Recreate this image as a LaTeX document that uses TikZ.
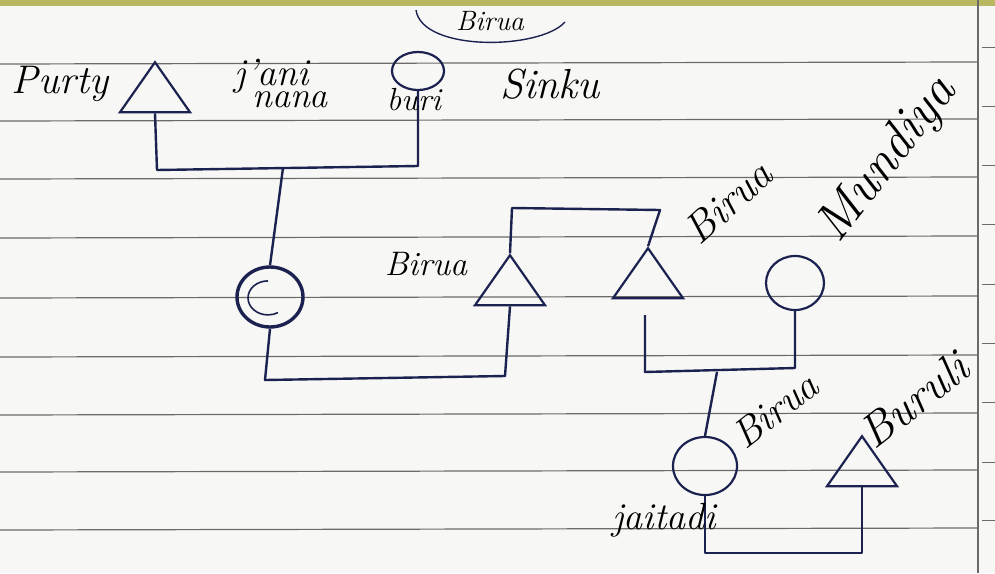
\documentclass[tikz,border=0pt]{standalone}
\usetikzlibrary{shapes.geometric}
\definecolor{ink}{HTML}{1C2250}
\definecolor{rule}{HTML}{6A6A6A}
\definecolor{paper}{HTML}{F7F7F5}
\definecolor{band}{HTML}{B8B860}
\newcommand{\hsz}[1]{\itshape\fontsize{#1}{#1}\selectfont}
\begin{document}
\begin{tikzpicture}[x=1pt,y=-1pt,
  male/.style={draw=ink,line width=2.2pt,isosceles triangle,isosceles triangle apex angle=70,shape border rotate=90,minimum height=50pt,minimum width=70pt,inner sep=0pt},
  female/.style={draw=ink,line width=2.2pt,ellipse,minimum width=52pt,minimum height=38pt,inner sep=0pt},
  link/.style={draw=ink,line width=2.4pt,line join=round},
  hand/.style={font=\hsz{34},text=black,inner sep=0pt}]
\useasboundingbox (0,0) rectangle (995,573);
\fill[paper] (0,0) rectangle (995,573);
\fill[band] (0,0) rectangle (995,6);
% ruled lines
\foreach \y in {62,119,177,236,296,355,413,470,528}
  \draw[rule,line width=1.2pt] (0,\y+2) -- (978,\y);
\draw[rule,line width=1.6pt] (978,0) -- (978,573);
\foreach \y in {47,106,165,224,284,343,402,462,520}
  \draw[rule,line width=1pt] (982,\y) -- (995,\y);

% nodes
\node[male] (purty) at (155,94) {};
\node[female,minimum width=52pt,minimum height=38pt] (buri) at (418,71) {};
\node[female,minimum width=66pt,minimum height=60pt,line width=3.4pt] (ego) at (270,297) {};
\node[female,minimum width=44pt,minimum height=36pt,draw=none] (egoin) at (268,300) {};
\draw[ink,line width=1.6pt] (egoin.north) arc[start angle=90,end angle=300,x radius=20pt,y radius=17pt];
\node[male] (tri1) at (510,287) {};
\node[male] (tri2) at (648,280) {};
\node[female,minimum width=58pt,minimum height=54pt] (mund) at (795,283) {};
\node[female,minimum width=64pt,minimum height=58pt] (jai) at (705,466) {};
\node[male] (tri3) at (862,468) {};

% connectors
\coordinate (c1) at (157,170);
\coordinate (c2) at (418,166);
\draw[link] (purty.south) -- (c1) -- (c2) -- (buri.south);
\coordinate (c3) at (283,168);
\draw[link] (c3) -- (ego.north);
\coordinate (c4) at (265,380);
\coordinate (c5) at (505,376);
\draw[link] (ego.south) -- (c4) -- (c5) -- (tri1.south);
\coordinate (c6) at (512,208);
\coordinate (c7) at (660,210);
\draw[link] (tri1.north) -- (c6) -- (c7) -- (tri2.north);
\coordinate (c8) at (645,372);
\coordinate (c9) at (795,368);
\coordinate (c8a) at (645,315);
\draw[link] (c8a) -- (c8) -- (c9) -- (mund.south);
\coordinate (c10) at (717,372);
\draw[link] (c10) -- (jai.north);
\coordinate (c11) at (705,553);
\coordinate (c12) at (862,553);
\draw[link] (jai.south) -- (c11) -- (c12) -- (tri3.south);

% labels
\node[hand,font=\hsz{40}] (lpurty) at (60,84) {Purty};
\node[hand,font=\hsz{38}] (ljani) at (272,76) {j'ani};
\node[hand,font=\hsz{36}] (lnana) at (290,100) {nana};
\node[hand,font=\hsz{32}] (lburi) at (414,100) {buri};
\node[hand,font=\hsz{42}] (lsinku) at (550,84) {Sinku};
\node[hand,font=\hsz{28}] (ltop) at (490,21) {Birua};
\draw[ink,line width=1.4pt] (416,10) .. controls (422,52) and (540,50) .. (565,22);
\node[hand] (lbirua1) at (426,264) {Birua};
\node[hand,rotate=42,font=\hsz{42}] (lbirua2) at (728,202) {Birua};
\node[hand,rotate=52,font=\hsz{52}] (lmund) at (888,160) {Mundiya};
\node[hand,rotate=38,font=\hsz{40}] (lbirua3) at (775,410) {Birua};
\node[hand,rotate=38,font=\hsz{46}] (lburuli) at (914,400) {Buruli};
\node[hand,font=\hsz{38}] (ljai) at (664,520) {jaitadi};
\end{tikzpicture}
\end{document}
